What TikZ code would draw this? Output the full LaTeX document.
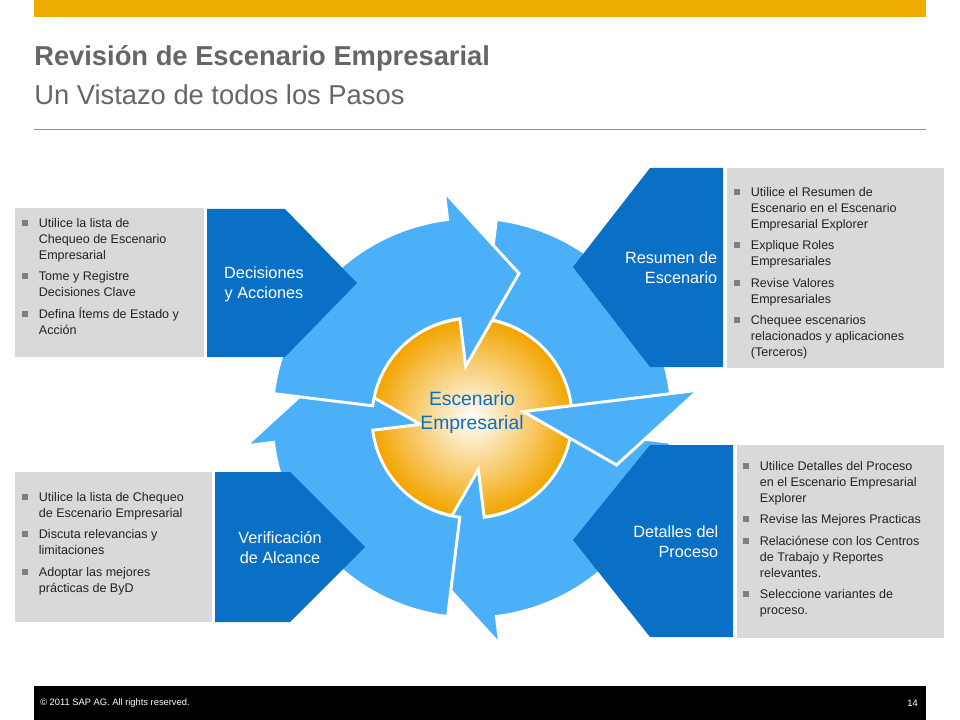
\documentclass[tikz,border=0pt]{standalone}
\usepackage{fontspec}
\setmainfont{Liberation Sans}
\usepackage{array}
\definecolor{sapor}{HTML}{F0AB00}
\definecolor{ltblue}{HTML}{4CB0F8}
\definecolor{dkblue}{HTML}{0A70C6}
\definecolor{gbox}{HTML}{D9D9D9}
\definecolor{titg}{HTML}{666666}
\definecolor{bulg}{HTML}{7F7F7F}
\definecolor{txtg}{HTML}{222222}
\newcommand{\bsq}{\textcolor{bulg}{\rule[1pt]{4.5pt}{4.5pt}}}
\newenvironment{blist}{\fontsize{9.4}{12}\selectfont\color{txtg}\setlength\tabcolsep{0pt}\begin{tabular}{@{}p{12.5pt}@{}l@{}}}{\end{tabular}}
\tikzset{
  pent/.style={fill=dkblue,draw=none},
  gray box/.style={fill=gbox,draw=none},
  ringarrow/.style={fill=ltblue,draw=white,line width=2.2pt,line join=miter},
  boxlabel/.style={text=white,font=\fontsize{12.2}{15}\selectfont,align=center},
}
\newcommand{\ringarrow}[1]{%
  \fill[ringarrow] (#1:100) -- (#1:52) -- (#1-25:152) -- (#1:228) -- (#1:200)
     arc[start angle=#1,end angle=#1+76,radius=200] -- (#1+76:100)
     arc[start angle=#1+76,end angle=#1,radius=100] -- cycle;}
\newcommand{\ringhead}[1]{%
  \fill[ringarrow] (#1:100) -- (#1:52) -- (#1-25:152) -- (#1:228) -- (#1:200) -- cycle;}
\begin{document}
\begin{tikzpicture}[x=0.75pt,y=-0.75pt]
\useasboundingbox (0,0) rectangle (960,720);
\fill[white] (0,0) rectangle (960,720);
% top bar
\fill[sapor] (34,0) rectangle (926,17);
% title
\node[anchor=base west,inner sep=0,text=titg,font=\fontsize{20.5}{24}\selectfont\bfseries] (title) at (34,66) {Revisión de Escenario Empresarial};
\node[anchor=base west,inner sep=0,text=titg,font=\fontsize{20.5}{24}\selectfont] (subtitle) at (34,105) {Un Vistazo de todos los Pasos};
\draw[titg!70,line width=0.6pt] (34,129) -- (926,129);
% footer
\fill[black] (34,686) rectangle (926,720);
\node[anchor=west,inner sep=0,text=white,font=\fontsize{7}{8}\selectfont] (copy) at (40,703) {© 2011 SAP AG. All rights reserved.};
\node[anchor=east,inner sep=0,text=white,font=\fontsize{7}{8}\selectfont] (pg) at (918,703) {14};

% central circle
\shade[inner color=white,outer color=sapor!85!orange] (472,418) ellipse[x radius=100,y radius=98];
% ring arrows
\begin{scope}[shift={(472,418)},yscale=-1]
  \ringarrow{7}
  \ringarrow{-83}
  \ringarrow{187}
  \ringarrow{97}
  \ringhead{7}
\end{scope}
\node[text=dkblue,font=\fontsize{14.5}{18}\selectfont,align=center] (center) at (472,413) {Escenario\\Empresarial};

% gray boxes
\fill[gray box] (15,208) rectangle (204,357);
\fill[gray box] (15,472) rectangle (212,622);
\fill[gray box] (727,168) rectangle (944,368);
\fill[gray box] (737,445) rectangle (944,638);

% blue pentagons
\fill[pent] (207,209) -- (285,209) -- (357,283) -- (285,357) -- (207,357) -- cycle;
\node[boxlabel] (dec) at (264,284) {Decisiones\\y Acciones};
\fill[pent] (215,472) -- (290,472) -- (365,547) -- (290,622) -- (215,622) -- cycle;
\node[boxlabel] (ver) at (280,548) {Verificación\\de Alcance};
\fill[pent] (723,168) -- (650,168) -- (573,267) -- (650,367) -- (723,367) -- cycle;
\node[boxlabel,align=right,anchor=east] (res) at (722,268) {Resumen de\\Escenario};
\fill[pent] (733,445) -- (650,445) -- (573,540) -- (650,637) -- (733,637) -- cycle;
\node[boxlabel,align=right,anchor=east] (det) at (723,542) {Detalles del\\Proceso};

% bullet texts
\node[anchor=north west,inner sep=0] (t1) at (22,216) {\begin{blist}
\bsq & Utilice la lista de\\ & Chequeo de Escenario\\ & Empresarial\\[4pt]
\bsq & Tome y Registre\\ & Decisiones Clave\\[4pt]
\bsq & Defina Ítems de Estado y\\ & Acción
\end{blist}};
\node[anchor=north west,inner sep=0] (t2) at (22,490) {\begin{blist}
\bsq & Utilice la lista de Chequeo\\ & de Escenario Empresarial\\[4pt]
\bsq & Discuta relevancias y\\ & limitaciones\\[4pt]
\bsq & Adoptar las mejores\\ & prácticas de ByD
\end{blist}};
\node[anchor=north west,inner sep=0] (t3) at (734,185) {\begin{blist}
\bsq & Utilice el Resumen de\\ & Escenario en el Escenario\\ & Empresarial Explorer\\[4pt]
\bsq & Explique Roles\\ & Empresariales\\[4pt]
\bsq & Revise Valores\\ & Empresariales\\[4pt]
\bsq & Chequee escenarios\\ & relacionados y aplicaciones\\ & (Terceros)
\end{blist}};
\node[anchor=north west,inner sep=0] (t4) at (743,459) {\begin{blist}
\bsq & Utilice Detalles del Proceso\\ & en el Escenario Empresarial\\ & Explorer\\[4pt]
\bsq & Revise las Mejores Practicas\\[4pt]
\bsq & Relaciónese con los Centros\\ & de Trabajo y Reportes\\ & relevantes.\\[4pt]
\bsq & Seleccione variantes de\\ & proceso.
\end{blist}};
\end{tikzpicture}
\end{document}
